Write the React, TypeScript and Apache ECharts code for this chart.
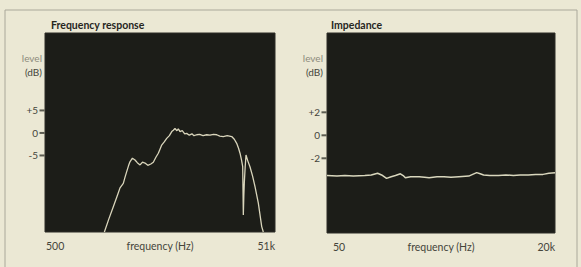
import React, { useEffect, useRef } from "react";
import * as echarts from "echarts";

// Frequency response: [frequency Hz, level dB]
const freqResponse: [number, number][] = [
  [1650, -22], [1800, -19.2], [1975, -16.4], [2150, -13.8], [2260, -12.2],
  [2415, -11.2], [2500, -9.8], [2585, -8.6], [2680, -7.3], [2760, -6.4],
  [2900, -5.6], [3055, -6.0], [3200, -6.6], [3380, -7.1], [3550, -6.5],
  [3735, -6.7], [3950, -7.2], [4200, -6.9], [4415, -6.5], [4650, -5.4],
  [4880, -4.5], [5050, -3.6], [5225, -2.7], [5500, -2.0], [5780, -1.2],
  [6100, -0.6], [6395, 0.3], [6600, 0.6], [6825, 1.0], [7100, 0.5],
  [7300, 0.9], [7550, 0.3], [7900, 0.5], [8300, -0.2], [8640, -0.1],
  [9100, -0.5], [9600, -0.2], [10000, -0.6], [10565, -0.4], [11200, -0.3],
  [12000, -0.6], [12910, -0.4], [13800, -0.5], [14800, -0.3], [15800, -0.4],
  [16800, -0.7], [18030, -0.8], [19500, -0.6], [21360, -0.8], [22500, -1.4],
  [23600, -2.3], [24500, -3.4], [25240, -4.5], [26000, -6.0], [26640, -7.5],
  [26970, -18.2], [27250, -14.0], [27520, -11.0], [28000, -7.5], [28470, -4.9],
  [29500, -6.2], [30830, -7.5], [32500, -9.6], [34120, -11.9], [36470, -15.6],
  [39050, -20.8], [40330, -22],
];

// Impedance: [frequency Hz, level dB]
const impedance: [number, number][] = [
  [50, -3.5], [65, -3.55], [80, -3.5], [100, -3.55], [135, -3.5], [160, -3.45],
  [189, -3.3], [210, -3.45], [239, -3.75], [270, -3.6], [302, -3.5], [344, -3.35],
  [370, -3.5], [392, -3.7], [450, -3.6], [564, -3.6], [650, -3.65], [732, -3.7],
  [900, -3.6], [1081, -3.6], [1300, -3.65], [1598, -3.6], [2074, -3.55],
  [2300, -3.4], [2554, -3.25], [2800, -3.35], [3062, -3.45], [3600, -3.5],
  [4530, -3.5], [5500, -3.45], [6700, -3.5], [8000, -3.45], [9890, -3.45],
  [12000, -3.4], [14600, -3.4], [17000, -3.3], [20000, -3.25],
];

const leftYTicks = [-5, 0, 5];
const rightYTicks = [-2, 0, 2];
const leftXRange = [500, 51000];
const rightXRange = [50, 20000];
const leftXLabels = ["500", "51k"];
const rightXLabels = ["50", "20k"];
const titles = ["Frequency response", "Impedance"];

const FONT = "Lato";
const LABEL_COLOR = "#45453b";

function xLabelFormatter(range: number[], labels: string[]) {
  return (v: number) => {
    if (Math.abs(v - range[0]) / range[0] < 0.01) return labels[0];
    if (Math.abs(v - range[1]) / range[1] < 0.01) return labels[1];
    return "";
  };
}

const yFmt = (v: number) => (v > 0 ? "+" + v : String(v));

export default function App() {
  const ref = useRef<HTMLDivElement>(null);
  useEffect(() => {
    const chart = echarts.init(ref.current!, undefined, { renderer: "svg" });
    const gridBase = {
      show: true,
      backgroundColor: "#1c1d18",
      borderColor: "#2c2c26",
      borderWidth: 1,
    };
    const xAxisBase = (idx: number, range: number[], labels: string[], pad: number[]) => ({
      type: "log" as const,
      gridIndex: idx,
      min: range[0],
      max: range[1],
      logBase: 10,
      axisLine: { show: false },
      axisTick: { show: false },
      splitLine: { show: false },
      name: "frequency (Hz)",
      nameLocation: "middle" as const,
      nameGap: 8,
      nameMoveOverlap: false,
      nameTextStyle: { fontFamily: FONT, fontSize: 10.5, color: LABEL_COLOR },
      axisLabel: {
        show: true,
        interval: 0,
        showMinLabel: true,
        showMaxLabel: true,
        alignMinLabel: "left",
        alignMaxLabel: "right",
        margin: 8,
        fontFamily: FONT,
        fontSize: 10.5,
        color: LABEL_COLOR,
        padding: pad,
        formatter: xLabelFormatter(range, labels),
      },
    });
    const yAxisBase = (idx: number, min: number, max: number, ticks: number[]) => ({
      type: "value" as const,
      gridIndex: idx,
      min,
      max,
      axisLine: { show: false },
      splitLine: { show: false },
      axisTick: { show: false },
      axisLabel: {
        show: true,
        customValues: ticks,
        margin: 7,
        fontFamily: FONT,
        fontSize: 10,
        color: LABEL_COLOR,
        formatter: yFmt,
      },
    });
    const tickSeries = (idx: number, xMin: number, ticks: number[]) => ({
      type: "scatter",
      xAxisIndex: idx,
      yAxisIndex: idx,
      data: ticks.map((t) => [xMin, t]),
      symbol: "rect",
      symbolSize: [5, 2],
      symbolOffset: [-3, 0],
      clip: false,
      silent: true,
      itemStyle: { color: "#3a3a31" },
      z: 5,
    });
    chart.setOption({
      animation: false,
      backgroundColor: "#ebe8d4",
      title: [
        {
          text: titles[0],
          left: 46,
          top: 14,
          textStyle: { fontFamily: FONT, fontSize: 10.5, fontWeight: "bold", color: "#26261e" },
        },
        {
          text: titles[1],
          left: 326,
          top: 14,
          textStyle: { fontFamily: FONT, fontSize: 10.5, fontWeight: "bold", color: "#26261e" },
        },
      ],
      grid: [
        { ...gridBase, left: 45, top: 33, width: 230, height: 199 },
        { ...gridBase, left: 327, top: 33, width: 228, height: 200 },
      ],
      xAxis: [
        xAxisBase(0, leftXRange, leftXLabels, [0, 0, 0, 1]),
        xAxisBase(1, rightXRange, rightXLabels, [0, 0, 0, 6]),
      ],
      yAxis: [
        yAxisBase(0, -22, 22.2, leftYTicks),
        yAxisBase(1, -8.5, 8.9, rightYTicks),
      ],
      graphic: [
        {
          type: "rect",
          shape: { x: 5, y: 10, width: 572, height: 280 },
          style: { fill: "none", stroke: "#aaa89a", lineWidth: 1 },
          silent: true,
        },
        {
          type: "text",
          x: 42, y: 58,
          style: { text: "level", fontFamily: FONT, fontSize: 10, fill: "#8d8b7c", align: "right", verticalAlign: "middle" },
        },
        {
          type: "text",
          x: 42, y: 72,
          style: { text: "(dB)", fontFamily: FONT, fontSize: 10, fill: LABEL_COLOR, align: "right", verticalAlign: "middle" },
        },
        {
          type: "text",
          x: 323, y: 58,
          style: { text: "level", fontFamily: FONT, fontSize: 10, fill: "#8d8b7c", align: "right", verticalAlign: "middle" },
        },
        {
          type: "text",
          x: 323, y: 72,
          style: { text: "(dB)", fontFamily: FONT, fontSize: 10, fill: LABEL_COLOR, align: "right", verticalAlign: "middle" },
        },
      ],
      series: [
        {
          type: "line",
          xAxisIndex: 0,
          yAxisIndex: 0,
          data: freqResponse,
          showSymbol: false,
          clip: true,
          lineStyle: { color: "#d9d5bb", width: 1.3 },
        },
        {
          type: "line",
          xAxisIndex: 1,
          yAxisIndex: 1,
          data: impedance,
          showSymbol: false,
          clip: true,
          lineStyle: { color: "#d9d7bd", width: 1.5 },
        },
        tickSeries(0, leftXRange[0], leftYTicks),
        tickSeries(1, rightXRange[0], rightYTicks),
      ],
    });
    return () => chart.dispose();
  }, []);
  return (
    <div
      ref={ref}
      style={{ position: "fixed", left: 0, top: 0, width: 581, height: 267 }}
    />
  );
}
